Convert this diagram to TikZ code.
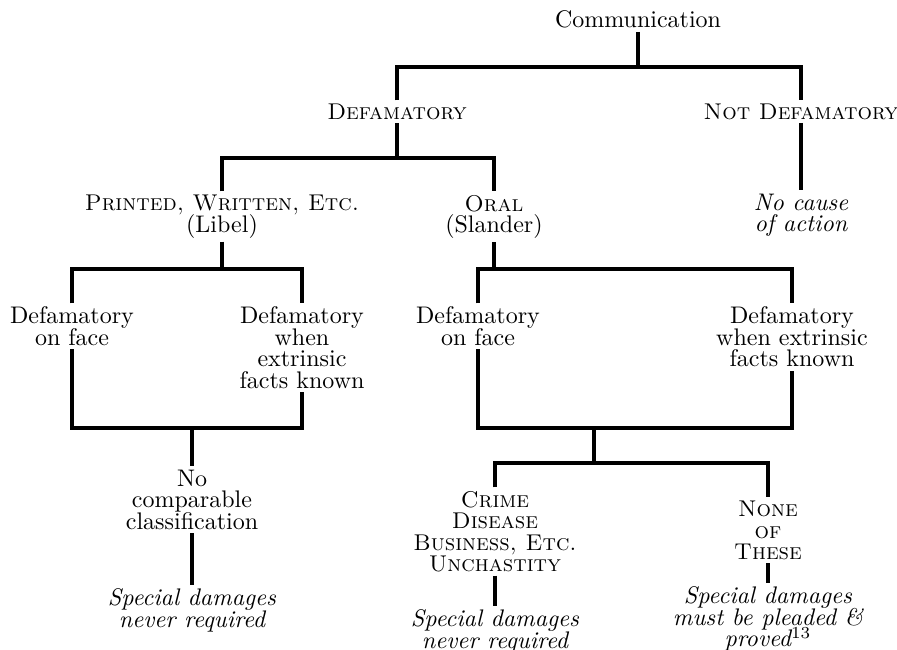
\documentclass[tikz,border=0pt]{standalone}
\usepackage{amsmath, amssymb}
\usepackage{tikz}
\usetikzlibrary{calc}

\newcommand\chartsize{\fontsize{10}{8.96}\selectfont\lineskiplimit=-20pt\relax}
\newcommand\sk[1]{{\fontsize{9.5}{8.96}\selectfont\textsc{#1}}}

\tikzset{
  lab/.style={align=center, anchor=north, inner sep=1.25pt, font=\chartsize},
  note/.style={lab, font=\chartsize\itshape},
  tree/.style={line width=1.3pt}
}

\begin{document}
\begin{tikzpicture}[x=0.41667pt, y=-0.41667pt]
\useasboundingbox (0,0) rectangle (897,650);

\node[lab] (comm) at (638,7.5) {Communication};
\node[lab] (defam) at (397,100.5) {\sk{Defamatory}};
\node[lab] (notdef) at (801,100) {\sk{Not Defamatory}};
\node[note] (nocause) at (801,190.5) {No cause\\of action};

\node[lab] (printed) at (222,191.5) {\sk{Printed, Written, Etc.}\\(Libel)};
\node[lab] (oral) at (494,191.5) {\sk{Oral}\\(Slander)};

\node[lab] (lface) at (72,303.5) {Defamatory\\on face};
\node[lab] (lext) at (302,303.5) {Defamatory\\when\\extrinsic\\facts known};
\node[lab] (sface) at (478,303.5) {Defamatory\\on face};
\node[lab] (sext) at (792,303.5) {Defamatory\\when extrinsic\\facts known};

\node[lab] (nocomp) at (192,466.5) {No\\comparable\\classification};
\node[note] (lnever) at (192,585.5) {Special damages\\never required};

\node[lab] (crime) at (495,487.5) {\sk{Crime}\\\sk{Disease}\\\sk{Business, Etc.}\\\sk{Unchastity}};
\node[note] (cnever) at (495,606.5) {Special damages\\never required};
\node[lab] (none) at (768,497.5) {\sk{None}\\\sk{of}\\\sk{These}};
\node[note] (pleaded) at (768,583.5) {Special damages\\must be pleaded \&\\proved\textsuperscript{\upshape 13}};

% junctions
\coordinate (j0) at (638,67);
\coordinate (j1) at (397,158);
\coordinate (j2a) at (222,269);
\coordinate (j2b) at (494,269);
\coordinate (j3a) at (192,428);
\coordinate (j3b) at (594,428);
\coordinate (j4) at (594,463);

\draw[tree] (comm) -- (j0);
\draw[tree] (defam) |- (j0) -| (notdef);
\draw[tree] (notdef) -- (nocause);

\draw[tree] (defam) -- (j1);
\draw[tree] (printed) |- (j1) -| (oral);

\draw[tree] (printed) -- (j2a);
\draw[tree] (lface) |- (j2a) -| (lext);
\draw[tree] (oral) -- (j2b);
\draw[tree] (sface) |- (j2b) -| (sext);

\draw[tree] (lface) |- (j3a) -| (lext);
\draw[tree] (j3a) -- (nocomp);
\draw[tree] (nocomp) -- (lnever);

\draw[tree] (sface) |- (j3b) -| (sext);
\draw[tree] (j3b) -- (j4);
\draw[tree] (crime) |- (j4) -| (none);
\draw[tree] (crime) -- (cnever);
\draw[tree] (none) -- (pleaded);

\end{tikzpicture}
\end{document}
